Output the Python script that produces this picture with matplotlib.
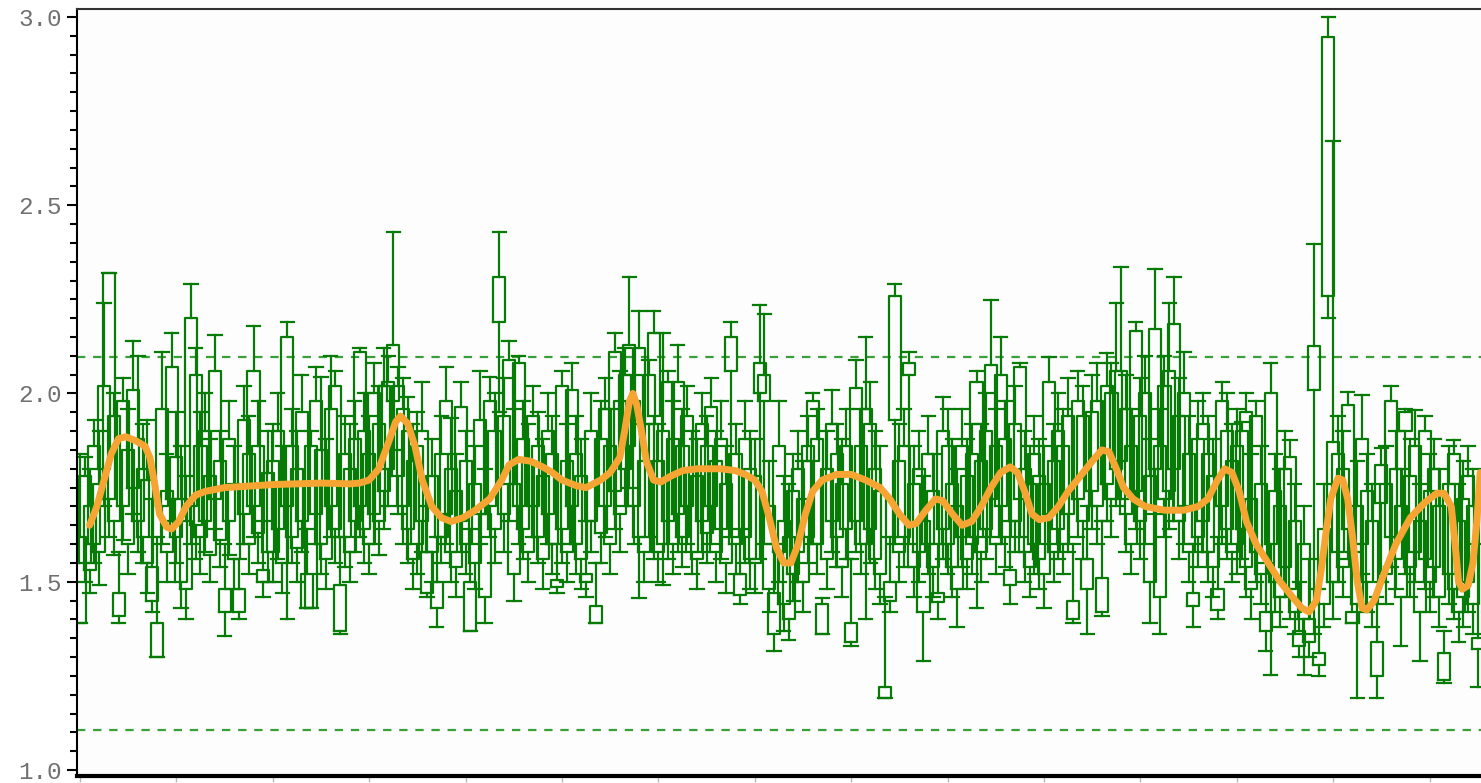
import matplotlib
matplotlib.use("Agg")
import matplotlib.pyplot as plt
from matplotlib.ticker import MultipleLocator, FormatStrFormatter

plt.rcParams['lines.scale_dashes'] = False

# ---- data: per-box low whisker, box bottom, box top, high whisker ----
lows = [
 1.39,1.50,1.47,1.55,1.49,1.70,1.62,1.57,1.39,1.61,1.52,1.68,1.58,1.55,1.47,1.42,1.30,1.60,1.50,1.66,
 1.55,1.43,1.40,1.60,1.56,1.52,1.58,1.50,1.64,1.54,1.355,1.57,1.48,1.40,1.60,1.52,1.62,1.55,1.46,1.50,
 1.50,1.56,1.47,1.40,1.55,1.50,1.58,1.43,1.43,1.60,1.52,1.48,1.62,1.55,1.36,1.54,1.50,1.58,1.62,1.55,
 1.52,1.60,1.57,1.64,1.70,1.85,1.68,1.60,1.55,1.48,1.52,1.58,1.46,1.50,1.38,1.55,1.60,1.50,1.46,1.58,
 1.52,1.37,1.48,1.60,1.39,1.62,1.55,1.95,1.58,1.66,1.45,1.60,1.56,1.50,1.62,1.55,1.48,1.60,1.52,1.47,
 1.55,1.50,1.60,1.52,1.48,1.46,1.58,1.39,1.55,1.62,1.52,1.64,1.58,1.70,1.75,1.60,1.456,1.50,1.62,1.56,
 1.50,1.49,1.56,1.52,1.58,1.54,1.60,1.52,1.48,1.58,1.55,1.60,1.50,1.56,1.47,1.62,1.52,1.44,1.55,1.48,
 1.47,1.56,1.60,1.42,1.315,1.50,1.37,1.345,1.45,1.50,1.42,1.55,1.60,1.52,1.36,1.48,1.58,1.54,1.46,1.56,
 1.33,1.58,1.52,1.40,1.55,1.48,1.44,1.19,1.42,1.60,1.50,1.54,1.60,1.46,1.50,1.29,1.52,1.46,1.40,1.56,
 1.52,1.46,1.38,1.54,1.48,1.52,1.43,1.50,1.56,1.62,1.52,1.60,1.54,1.44,1.58,1.62,1.50,1.46,1.52,1.48,
 1.43,1.60,1.50,1.56,1.52,1.58,1.39,1.62,1.56,1.36,1.64,1.60,1.41,1.66,1.62,1.70,1.72,1.58,1.52,1.64,
 1.56,1.60,1.39,1.68,1.36,1.62,1.64,1.66,1.56,1.60,1.50,1.38,1.54,1.58,1.50,1.46,1.40,1.60,1.56,1.50,
 1.52,1.56,1.46,1.40,1.50,1.44,1.315,1.253,1.42,1.38,1.46,1.40,1.36,1.30,1.253,1.30,1.36,1.25,1.38,2.20,
 1.40,1.50,1.46,1.56,1.39,1.19,1.52,1.42,1.38,1.19,1.50,1.44,1.54,1.48,1.33,1.52,1.46,1.50,1.29,1.48,
 1.42,1.46,1.38,1.23,1.44,1.40,1.34,1.38,1.42,1.36,1.22,
]
box_lo = [
 1.39,1.55,1.53,1.60,1.58,1.80,1.72,1.66,1.41,1.70,1.60,1.75,1.66,1.62,1.55,1.45,1.30,1.70,1.58,1.72,
 1.62,1.50,1.48,1.70,1.65,1.62,1.66,1.57,1.72,1.61,1.42,1.66,1.56,1.42,1.68,1.60,1.70,1.63,1.50,1.58,
 1.58,1.64,1.55,1.70,1.62,1.59,1.66,1.43,1.43,1.68,1.60,1.56,1.70,1.64,1.37,1.62,1.58,1.66,1.70,1.64,
 1.60,1.68,1.66,1.74,1.80,1.98,1.78,1.70,1.64,1.56,1.60,1.66,1.47,1.58,1.43,1.62,1.68,1.58,1.54,1.66,
 1.60,1.37,1.55,1.68,1.46,1.70,1.64,2.19,1.68,1.76,1.52,1.70,1.64,1.58,1.70,1.62,1.56,1.68,1.60,1.487,
 1.64,1.58,1.70,1.60,1.56,1.50,1.66,1.39,1.63,1.70,1.60,1.74,1.68,1.80,1.86,1.70,1.62,1.58,1.92,1.94,
 1.58,1.60,1.66,1.60,1.68,1.62,1.70,1.58,1.56,1.66,1.63,1.70,1.58,1.64,1.55,2.06,1.60,1.465,1.62,1.56,
 1.55,2.00,1.98,1.48,1.36,1.58,1.44,1.40,1.52,1.58,1.50,1.62,1.82,1.60,1.36,1.56,1.66,1.62,1.54,1.64,
 1.34,1.66,1.60,1.60,1.64,1.56,1.52,1.19,1.45,1.93,1.58,1.62,2.05,1.54,1.58,1.42,1.60,1.54,1.445,1.64,
 1.60,1.54,1.48,1.62,1.56,1.60,1.62,1.58,1.64,1.72,1.60,1.70,1.62,1.49,1.66,1.72,1.58,1.54,1.60,1.56,
 1.52,1.68,1.58,1.64,1.60,1.68,1.40,1.72,1.66,1.48,1.74,1.70,1.42,1.76,1.72,1.80,1.82,1.68,1.60,1.74,
 1.66,1.70,1.50,1.80,1.46,1.72,1.74,1.80,1.66,1.70,1.58,1.435,1.62,1.66,1.58,1.54,1.425,1.70,1.64,1.58,
 1.60,1.64,1.54,1.48,1.58,1.52,1.37,1.60,1.50,1.46,1.54,1.48,1.42,1.33,1.40,1.34,2.01,1.28,1.44,2.26,
 1.50,1.58,1.54,1.64,1.39,1.44,1.60,1.50,1.44,1.25,1.71,1.52,1.62,1.56,1.46,1.90,1.54,1.58,1.42,1.56,
 1.50,1.54,1.46,1.24,1.52,1.48,1.42,1.46,1.50,1.44,1.32,
]
box_hi = [
 1.62,1.78,1.70,1.86,1.76,2.02,2.32,1.94,1.47,1.98,1.85,2.01,1.88,1.80,1.77,1.54,1.39,1.96,1.74,2.07,
 1.83,1.72,1.66,2.20,2.05,1.86,1.90,1.78,2.06,1.82,1.48,1.88,1.76,1.48,1.93,1.84,2.06,1.86,1.53,1.79,
 1.82,1.90,1.76,2.15,1.86,1.80,1.95,1.52,1.86,1.98,1.85,1.76,1.96,2.02,1.49,1.84,1.80,1.88,2.11,1.90,
 1.84,2.00,1.92,2.02,2.03,2.13,2.02,1.96,1.90,1.82,1.86,1.90,1.58,1.78,1.50,1.84,1.98,1.80,1.74,1.965,
 1.82,1.50,1.76,1.93,1.68,1.98,1.90,2.31,1.94,2.09,1.76,2.08,1.88,1.82,1.94,1.86,1.78,1.90,1.84,1.505,
 2.02,1.82,2.01,1.84,1.78,1.52,1.90,1.435,1.88,1.96,1.86,2.11,1.98,2.05,2.13,1.98,2.12,1.82,2.05,2.16,
 1.82,1.90,2.03,1.88,2.03,1.86,1.94,1.80,1.78,1.92,1.86,1.965,1.82,1.88,1.76,2.15,1.84,1.52,1.88,1.80,
 1.78,2.08,2.05,1.70,1.47,1.86,1.66,1.62,1.74,1.80,1.72,1.86,1.98,1.88,1.44,1.80,1.92,1.84,1.76,1.86,
 1.39,2.015,1.86,1.96,1.92,1.80,1.74,1.22,1.50,2.26,1.82,1.86,2.08,1.76,1.80,1.66,1.84,1.74,1.47,1.90,
 1.86,1.76,1.70,1.86,1.78,1.84,2.03,1.82,1.90,2.075,1.86,2.05,1.88,1.53,1.92,2.07,1.80,1.76,1.84,1.78,
 1.76,2.03,1.82,1.90,1.86,1.94,1.45,1.98,1.94,1.56,1.95,1.98,1.51,2.02,2.00,2.06,2.06,1.96,1.86,2.165,
 1.94,2.00,1.78,2.17,1.86,2.02,2.06,2.185,1.94,2.00,1.84,1.47,1.88,1.92,1.84,1.78,1.48,1.98,1.90,1.82,
 1.86,1.90,1.95,1.72,1.94,1.76,1.42,2.00,1.74,1.70,1.80,1.83,1.66,1.37,1.60,1.40,2.125,1.31,1.64,2.947,
 1.87,1.84,1.80,1.97,1.42,1.70,1.88,1.74,1.66,1.34,1.81,1.76,1.98,1.80,1.70,1.95,1.78,1.86,1.66,1.90,
 1.74,1.80,1.70,1.31,1.76,1.84,1.66,1.72,1.78,1.70,1.35,
]
highs = [
 1.84,1.83,1.80,1.93,1.90,2.24,2.32,2.00,1.58,2.04,1.96,2.14,2.10,1.92,1.93,1.72,1.62,2.11,1.84,2.16,
 1.95,1.86,1.78,2.29,2.12,1.95,2.00,1.88,2.155,1.90,1.60,1.98,1.86,1.56,2.02,1.94,2.18,1.98,1.66,1.90,
 1.92,2.00,1.86,2.19,1.96,1.90,2.05,1.64,1.90,2.07,2.045,1.88,2.10,2.06,1.62,1.94,1.92,1.98,2.12,2.00,
 1.94,2.08,2.02,2.12,2.10,2.43,2.07,2.04,1.99,1.92,1.95,2.03,1.70,1.88,1.62,1.94,2.07,1.935,1.84,2.03,
 1.90,1.64,1.86,2.06,1.80,2.045,2.00,2.43,2.04,2.14,1.96,2.10,1.98,1.92,2.02,1.95,1.88,2.00,1.94,1.60,
 2.06,1.92,2.08,1.94,1.88,1.66,2.00,1.55,1.98,2.04,1.96,2.16,2.06,2.12,2.31,2.05,2.22,1.92,2.09,2.22,
 1.92,2.16,2.06,1.98,2.13,1.96,2.02,1.90,1.88,2.00,1.94,2.04,1.90,1.98,1.86,2.19,1.92,1.64,1.98,1.90,
 1.88,2.235,2.21,1.82,1.60,1.98,1.78,1.76,1.84,1.90,1.82,1.94,2.00,1.96,1.457,1.90,2.01,1.92,1.88,1.96,
 1.56,2.09,1.96,2.15,2.03,1.90,1.86,1.46,1.62,2.29,1.92,1.96,2.11,1.86,1.90,1.78,1.94,1.84,1.60,1.99,
 1.96,1.88,1.80,1.96,1.88,1.92,2.06,1.92,2.00,2.247,1.96,2.15,1.98,1.66,2.02,2.08,1.90,1.86,1.94,1.88,
 1.86,2.096,1.92,2.00,1.96,2.04,1.60,2.06,2.02,1.70,2.05,2.08,1.66,2.107,2.08,2.24,2.337,2.05,1.96,2.19,
 2.04,2.10,1.88,2.33,1.96,2.10,2.24,2.31,2.04,2.11,1.94,1.60,1.98,2.00,1.94,1.88,1.62,2.03,2.00,1.92,
 1.96,1.925,2.00,1.84,1.98,1.86,1.55,2.08,1.84,1.80,1.90,1.877,1.76,1.50,1.70,1.56,2.397,1.48,1.76,3.00,
 2.67,1.94,1.90,2.005,1.58,1.82,1.995,1.84,1.76,1.46,1.855,1.86,2.02,1.90,1.80,1.96,1.88,1.957,1.76,1.94,
 1.84,1.88,1.80,1.37,1.86,1.877,1.76,1.82,1.86,1.80,1.60,
]

# ---- smooth trend line ----
trend_x = [2.0,3.5,5.0,6.5,8.0,9.5,11.5,13.5,14.5,15.5,16.5,18.0,19.0,20.5,22.0,24.0,26.0,30.0,40.0,50.0,
           56.0,58.0,60.0,62.0,64.0,65.5,66.5,68.0,69.5,71.0,73.0,75.0,77.0,79.5,82.0,85.0,87.5,89.0,91.0,93.5,
           96.0,98.0,100.0,103.0,105.0,108.0,110.0,112.0,113.0,114.0,114.7,115.5,116.5,117.5,119.0,120.5,122.5,125.0,128.0,133.0,
           136.0,138.0,140.0,141.5,143.0,144.5,146.0,147.5,149.0,150.5,152.0,154.0,157.0,160.0,163.0,166.0,168.0,170.0,172.0,173.5,
           175.5,177.5,179.0,181.0,183.0,185.0,187.0,189.0,191.0,193.0,194.5,196.0,197.5,199.0,201.0,203.0,205.0,207.5,210.0,212.0,
           213.5,215.0,216.5,218.5,221.0,225.0,229.0,232.0,234.0,236.0,237.5,239.0,240.5,242.0,244.0,246.5,249.0,251.5,253.5,255.0,
           256.5,257.5,258.5,259.5,261.0,262.0,263.0,264.0,265.0,266.0,267.0,268.5,270.5,273.0,276.0,279.0,281.5,283.0,284.5,285.3,
           286.0,286.8,288.0,289.0,289.8,290.5]
trend_y = [1.65,1.70,1.77,1.84,1.88,1.885,1.875,1.86,1.83,1.76,1.68,1.645,1.64,1.66,1.70,1.73,1.74,1.75,1.758,1.762,
           1.76,1.762,1.77,1.80,1.87,1.925,1.94,1.92,1.86,1.77,1.70,1.67,1.66,1.67,1.69,1.72,1.77,1.81,1.825,1.82,
           1.805,1.79,1.77,1.755,1.75,1.77,1.79,1.83,1.90,1.98,2.00,1.97,1.90,1.82,1.77,1.765,1.78,1.795,1.80,1.80,
           1.795,1.785,1.77,1.74,1.67,1.59,1.55,1.55,1.60,1.68,1.74,1.77,1.785,1.785,1.77,1.75,1.72,1.68,1.65,1.655,
           1.69,1.72,1.715,1.68,1.65,1.66,1.70,1.75,1.79,1.805,1.79,1.74,1.68,1.665,1.67,1.70,1.74,1.78,1.82,1.85,
           1.845,1.80,1.75,1.72,1.70,1.69,1.69,1.70,1.72,1.77,1.80,1.79,1.74,1.66,1.60,1.55,1.50,1.46,1.43,1.42,
           1.45,1.53,1.63,1.72,1.775,1.77,1.72,1.62,1.50,1.43,1.425,1.45,1.52,1.60,1.67,1.71,1.735,1.735,1.70,1.60,
           1.50,1.48,1.49,1.55,1.66,1.79]

upper_limit = 2.097
lower_limit = 1.107

GREEN = "#067c06"
ORANGE = "#f6a532"

fig = plt.figure(figsize=(14.81, 7.83), dpi=100)
ax = fig.add_axes([77/1481, 1 - 776/783, (1485 - 77)/1481, (776 - 9)/783])
ax.set_facecolor("#fdfdfd")

n = len(lows)
stats = []
for i in range(n):
    stats.append(dict(whislo=lows[i], q1=box_lo[i], med=box_lo[i], q3=box_hi[i], whishi=highs[i], fliers=[]))

LW = 1.6
ax.bxp(stats, positions=list(range(n)), widths=2.5, capwidths=2.8, manage_ticks=False,
       showfliers=False,
       boxprops=dict(color=GREEN, linewidth=LW),
       whiskerprops=dict(color=GREEN, linewidth=LW),
       capprops=dict(color=GREEN, linewidth=LW),
       medianprops=dict(linewidth=0, color=GREEN),
       zorder=2)

for yv in (upper_limit, lower_limit):
    ax.axhline(yv, color="#3a9e3a", linewidth=1.6, dashes=[6.0, 5.6], zorder=1)

ax.plot(trend_x, trend_y, color=ORANGE, linewidth=5.0, solid_capstyle="round",
        solid_joinstyle="round", zorder=3)

ax.set_xlim(-0.62, (1485 - 80) / 4.82)
ax.set_ylim(0.984, 3.0212)

ax.yaxis.set_major_locator(MultipleLocator(0.5))
ax.yaxis.set_minor_locator(MultipleLocator(0.05))
ax.yaxis.set_major_formatter(FormatStrFormatter("%.1f"))
ax.xaxis.set_major_locator(MultipleLocator(20))
ax.tick_params(axis="y", which="major", length=7, width=1.5, color="black", pad=4,
               labelsize=17.5, labelcolor="#707070")
ax.tick_params(axis="y", which="minor", length=5, width=1.5, color="black")
ax.tick_params(axis="x", which="major", length=4, width=1.0, color="#bbbbbb", labelbottom=False)
for lab in ax.get_yticklabels():
    lab.set_family("Liberation Mono")

ax.spines["left"].set_linewidth(1.5)
ax.spines["bottom"].set_linewidth(3.0)
ax.spines["top"].set_linewidth(1.5)
ax.spines["top"].set_color("#333333")
ax.spines["right"].set_visible(False)

fig.savefig("out.png", dpi=100, facecolor="white")
